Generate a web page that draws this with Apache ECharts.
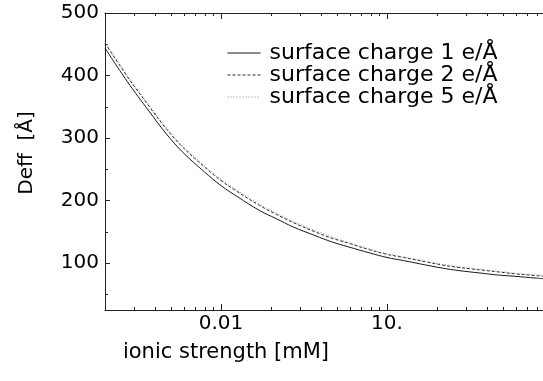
<!DOCTYPE html>
<html style="height: 100%">
<head>
<meta charset="utf-8">
</head>
<body style="height: 100%; margin: 0; background: #fff">
<div id="container" style="width: 543px; height: 381px"></div>
<script type="text/javascript" src="https://cdn.jsdelivr.net/npm/echarts@6/dist/echarts.min.js"></script>
<script type="text/javascript">
// ionic strength [mM]
var ionic = [8e-5, 2e-4, 5e-4, 1e-3, 2e-3, 5e-3, 0.01, 0.02, 0.05, 0.1, 0.2, 0.5,
             1, 2, 5, 10, 20, 50, 100, 200, 500, 1000, 2000, 5000, 6600];
// Deff [Å]
var charge1 = [444, 391, 343, 308, 278, 246, 224, 206, 184, 171, 158, 144,
               134, 126, 116, 109, 104, 97, 92, 88, 84, 81, 79, 76, 75];
var charge2 = [452, 399, 351, 316, 286, 254, 232, 214, 192, 178, 165, 150,
               140, 132, 121, 114, 109, 102, 97, 93, 89, 86, 83, 80, 79];
var charge5 = [454, 401, 353, 318, 288, 256, 234, 216, 194, 180, 167, 152,
               142, 133, 122, 115, 110, 103, 98, 94, 90, 87, 84, 81, 80];
var seriesNames = ['surface charge 1 e/Å', 'surface charge 2 e/Å', 'surface charge 5 e/Å'];

var xMajor = [0.01, 10];
var xMinor = [2.7e-4, 6.4e-4, 1.25e-3, 2.16e-3, 3.43e-3, 5.12e-3, 7.29e-3,
              0.08, 0.27, 0.64, 1.25, 2.16, 3.43, 5.12, 7.29,
              80, 270, 640, 1250, 2160, 3430, 5120];
var yMajor = [100, 200, 300, 400, 500];
var yMinor = [50, 150, 250, 350, 450];

var font = 'DejaVu Sans';
var ink = '#222';

function pairs(ys) {
    var out = [];
    for (var i = 0; i < ionic.length; i++) out.push([ionic[i], ys[i]]);
    return out;
}

function xAx(pos, ticks, len, showLine, showLabel) {
    return {
        type: 'log', logBase: 1000, min: 8e-5, max: 6600, position: pos,
        axisLine: {show: showLine, onZero: false, lineStyle: {color: ink, width: 1}},
        axisTick: {show: true, inside: true, length: len, customValues: ticks,
                   lineStyle: {color: ink, width: 1}},
        axisLabel: {show: showLabel, customValues: xMajor, margin: 4,
                    fontFamily: font, fontSize: 20, color: '#000',
                    formatter: function (v) { return v >= 1 ? v + '.' : String(v); }},
        splitLine: {show: false}, minorTick: {show: false}
    };
}

function yAx(ticks, len, showLine, showLabel) {
    return {
        type: 'value', min: 25, max: 500, position: 'left',
        axisLine: {show: showLine, onZero: false, lineStyle: {color: ink, width: 1}},
        axisTick: {show: true, inside: true, length: len, customValues: ticks,
                   lineStyle: {color: ink, width: 1}},
        axisLabel: {show: showLabel, customValues: yMajor, margin: 6,
                    fontFamily: font, fontSize: 20, color: '#000'},
        splitLine: {show: false}
    };
}

var xBottom = xAx('bottom', xMajor, 6, true, true);
xBottom.name = 'ionic strength [mM]';
xBottom.nameLocation = 'middle';
xBottom.nameGap = 32;
xBottom.nameTextStyle = {fontFamily: font, fontSize: 21, color: '#000', padding: [0, 196, 0, 0]};

var yLeft = yAx(yMajor, 5, true, true);
yLeft.name = 'Deff  [Å]';
yLeft.nameLocation = 'middle';
yLeft.nameGap = 68;
yLeft.nameTextStyle = {fontFamily: font, fontSize: 20, color: '#000', padding: [0, 0, 0, 17]};

var styles = [
    {color: '#1a1a1a', type: 'solid'},
    {color: '#2a2a2a', type: [3, 2]},
    {color: '#888', type: [1, 2]}
];
var data = [charge1, charge2, charge5];

var series = [];
for (var i = 0; i < 3; i++) {
    series.push({
        name: seriesNames[i], type: 'line', xAxisIndex: 0, yAxisIndex: 0,
        data: pairs(data[i]), smooth: 0.4, showSymbol: false, symbol: 'none',
        lineStyle: {color: styles[i].color, width: 1, type: styles[i].type},
        itemStyle: {color: styles[i].color},
        animation: false
    });
}

var myChart = echarts.init(document.getElementById('container'), null, {renderer: 'canvas'});
var option = {
    backgroundColor: '#fff',
    animation: false,
    grid: {left: 105, right: 0, top: 13, bottom: 71, containLabel: false},
    legend: {
        orient: 'vertical', left: 227, top: 42, padding: 0,
        itemWidth: 33, itemHeight: 3, itemGap: 0,
        itemStyle: {opacity: 0},
        lineStyle: {width: 1},
        data: seriesNames,
        textStyle: {fontFamily: font, fontSize: 22, color: '#000', lineHeight: 21, padding: [0, 0, 0, 4]}
    },
    xAxis: [
        xBottom,
        xAx('bottom', xMinor, 3, false, false),
        xAx('top', xMajor, 6, true, false),
        xAx('top', xMinor, 3, false, false)
    ],
    yAxis: [
        yLeft,
        yAx(yMinor, 3, false, false)
    ],
    series: series
};
myChart.setOption(option);
</script>
</body>
</html>
